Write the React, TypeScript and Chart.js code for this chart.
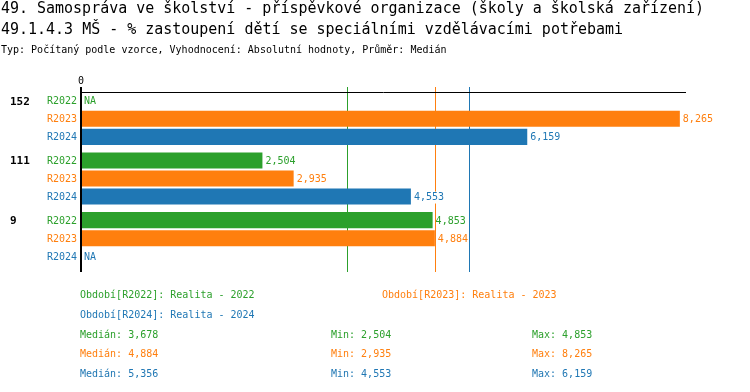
import React, { useEffect, useRef } from 'react';
import { Chart, registerables } from 'chart.js';

Chart.register(...registerables);

const categories = ['152', '111', '9'];
const seriesNames = ['R2022', 'R2023', 'R2024'];
const values2022: (number | null)[] = [null, 2504, 4853];
const values2023: (number | null)[] = [8265, 2935, 4884];
const values2024: (number | null)[] = [6159, 4553, null];
const medians = [3678, 4884, 5356];
const mins = [2504, 2935, 4553];
const maxs = [4853, 8265, 6159];
const legendLabels = [
  'Období[R2022]: Realita - 2022',
  'Období[R2023]: Realita - 2023',
  'Období[R2024]: Realita - 2024',
];
const titleLines = [
  '49. Samospráva ve školství - příspěvkové organizace (školy a školská zařízení)',
  '49.1.4.3 MŠ - % zastoupení dětí se speciálními vzdělávacími potřebami',
];
const subtitle = 'Typ: Počítaný podle vzorce, Vyhodnocení: Absolutní hodnoty, Průměr: Medián';
const colors = ['#2ca02c', '#ff7f0e', '#1f77b4'];
const xMax = 8350;

const MONO = '"DejaVu Sans Mono", monospace';
const CAT_PCT = 0.907;
const BAR_PCT = 0.889;

const fmt = (v: number) => v.toLocaleString('en-US');

const overlayPlugin = {
  id: 'overlay',
  beforeDatasetsDraw(chart: any) {
    const ctx = chart.ctx;
    const xs = chart.scales.x;
    ctx.save();
    ctx.lineWidth = 1;
    medians.forEach((m, i) => {
      const x = Math.round(xs.getPixelForValue(m)) + 0.5;
      ctx.strokeStyle = colors[i];
      ctx.beginPath();
      ctx.moveTo(x, 87);
      ctx.lineTo(x, 272);
      ctx.stroke();
    });
    ctx.restore();
  },
  afterDatasetsDraw(chart: any) {
    const ctx = chart.ctx;
    const xs = chart.scales.x;
    const x0 = xs.getPixelForValue(0);
    ctx.save();
    ctx.strokeStyle = '#000';
    ctx.lineWidth = 1;
    ctx.beginPath();
    ctx.moveTo(x0, 92.5);
    ctx.lineTo(chart.chartArea.right, 92.5);
    ctx.stroke();
    ctx.lineWidth = 2;
    ctx.beginPath();
    ctx.moveTo(x0, 87);
    ctx.lineTo(x0, 272);
    ctx.stroke();
    ctx.restore();
  },
  afterDraw(chart: any) {
    const ctx = chart.ctx;
    const xs = chart.scales.x;
    const ys = chart.scales.y;
    const x0 = xs.getPixelForValue(0);
    const series = [values2022, values2023, values2024];
    const cat = (ys.bottom - ys.top) / categories.length;
    const slot = (cat * CAT_PCT) / seriesNames.length;
    ctx.save();
    ctx.textBaseline = 'middle';

    // titles
    ctx.fillStyle = '#000';
    ctx.textAlign = 'left';
    ctx.font = `15px ${MONO}`;
    ctx.fillText(titleLines[0], 1, 9, 703);
    ctx.fillText(titleLines[1], 1, 30, 622);
    ctx.font = `10px ${MONO}`;
    ctx.fillText(subtitle, 1, 50, 446);

    // tick 0
    ctx.textAlign = 'center';
    ctx.fillText('0', x0, 81);

    categories.forEach((c, ci) => {
      const yc = ys.getPixelForValue(ci);
      series.forEach((vals, di) => {
        const y = yc + (di - 1) * slot + 1;
        // row label
        ctx.font = `10px ${MONO}`;
        ctx.textAlign = 'right';
        ctx.fillStyle = colors[di];
        ctx.fillText(seriesNames[di], 77, y);
        // value label
        const v = vals[ci];
        const text = v == null ? 'NA' : fmt(v);
        const tx = (v == null ? x0 : xs.getPixelForValue(v)) + 3;
        ctx.textAlign = 'left';
        const w = ctx.measureText(text).width;
        ctx.fillStyle = '#fff';
        ctx.fillRect(tx + 1, y - 6, w, 12);
        ctx.fillStyle = colors[di];
        ctx.fillText(text, tx, y);
      });
      // category label
      ctx.font = `bold 11px ${MONO}`;
      ctx.textAlign = 'left';
      ctx.fillStyle = '#000';
      ctx.fillText(c, 10, yc - slot + 1);
    });

    // legend
    ctx.font = `10px ${MONO}`;
    ctx.textAlign = 'left';
    ctx.fillStyle = colors[0];
    ctx.fillText(legendLabels[0], 80, 295);
    ctx.fillStyle = colors[1];
    ctx.fillText(legendLabels[1], 382, 295);
    ctx.fillStyle = colors[2];
    ctx.fillText(legendLabels[2], 80, 315);

    const rowsY = [335, 354, 374];
    rowsY.forEach((ry, i) => {
      ctx.fillStyle = colors[i];
      ctx.fillText(`Medián: ${fmt(medians[i])}`, 80, ry);
      ctx.fillText(`Min: ${fmt(mins[i])}`, 331, ry);
      ctx.fillText(`Max: ${fmt(maxs[i])}`, 532, ry);
    });
    ctx.restore();
  },
};

export default function App() {
  const canvasRef = useRef<HTMLCanvasElement | null>(null);

  useEffect(() => {
    const canvas = canvasRef.current;
    if (!canvas) return;
    const chart = new Chart(canvas, {
      type: 'bar',
      data: {
        labels: categories,
        datasets: [values2022, values2023, values2024].map((vals, i) => ({
          label: seriesNames[i],
          data: vals,
          backgroundColor: colors[i],
          borderWidth: 0,
          categoryPercentage: CAT_PCT,
          barPercentage: BAR_PCT,
        })),
      },
      options: {
        indexAxis: 'y',
        responsive: false,
        animation: false,
        devicePixelRatio: 1,
        layout: { padding: { left: 81, right: 64, top: 89, bottom: 124 } },
        plugins: {
          legend: { display: false },
          tooltip: { enabled: false },
          title: { display: false },
        },
        scales: {
          x: { display: false, min: 0, max: xMax },
          y: { display: false },
        },
      },
      plugins: [overlayPlugin],
    } as any);
    return () => chart.destroy();
  }, []);

  return (
    <div style={{ position: 'fixed', left: 0, top: 0, width: 750, height: 392, background: '#fff' }}>
      <canvas ref={canvasRef} width={750} height={392} />
    </div>
  );
}
